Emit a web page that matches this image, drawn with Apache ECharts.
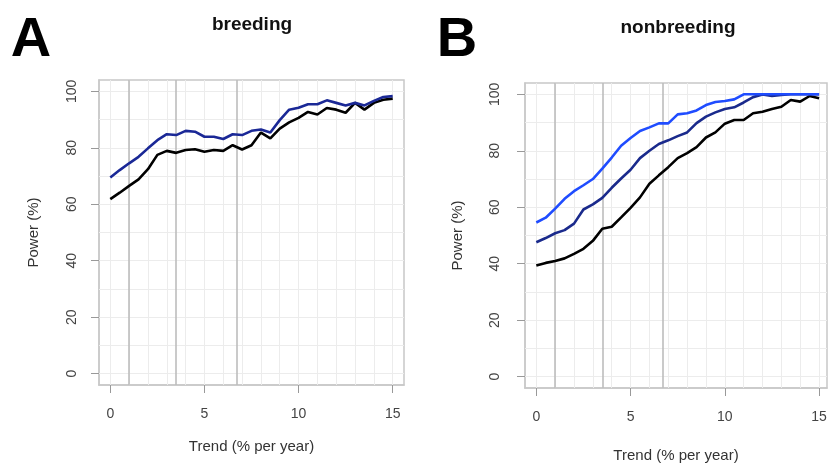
<!DOCTYPE html>
<html>
<head>
<meta charset="utf-8">
<script src="https://cdn.jsdelivr.net/npm/echarts@6/dist/echarts.min.js"></script>
<style>
  html, body { margin: 0; padding: 0; background: #fff; }
  #chart { width: 828px; height: 465px; }
</style>
</head>
<body>
<div id="chart"></div>
<script>
// trend values (% per year), one point every 0.5
const trend = [0, 0.5, 1, 1.5, 2, 2.5, 3, 3.5, 4, 4.5, 5, 5.5, 6, 6.5, 7, 7.5,
  8, 8.5, 9, 9.5, 10, 10.5, 11, 11.5, 12, 12.5, 13, 13.5, 14, 14.5, 15];

// panel A - breeding
const breedingBlue = [69.5, 72.1, 74.5, 76.8, 79.8, 82.7, 84.8, 84.5, 86.0, 85.7, 83.9, 83.9, 83.1, 84.8, 84.5, 86.0,
  86.5, 85.4, 89.8, 93.5, 94.2, 95.4, 95.4, 96.8, 95.9, 95.0, 95.9, 95.0, 96.6, 98.0, 98.3];
const breedingBlack = [61.8, 64.1, 66.5, 68.8, 72.4, 77.5, 78.9, 78.2, 79.2, 79.5, 78.6, 79.2, 78.9, 80.9, 79.4, 80.9,
  85.4, 83.3, 86.8, 89.0, 90.6, 92.7, 91.8, 94.1, 93.5, 92.4, 95.9, 93.5, 95.9, 97.0, 97.4];

// panel B - nonbreeding
const nonbreedingBright = [54.6, 56.3, 59.5, 63.0, 65.7, 67.8, 70.0, 73.7, 77.6, 81.8, 84.5, 87.0, 88.3, 89.7, 89.7, 92.9,
  93.3, 94.3, 96.2, 97.3, 97.6, 98.2, 100, 100, 100, 100, 100, 100, 100, 100, 100];
const nonbreedingNavy = [47.6, 49.1, 50.8, 51.9, 54.2, 59.2, 61.0, 63.3, 66.9, 70.2, 73.3, 77.4, 80.0, 82.4, 83.7, 85.2,
  86.5, 89.8, 92.1, 93.6, 94.8, 95.4, 97.1, 99.0, 99.9, 99.4, 99.8, 100, 100, 100, 100];
const nonbreedingBlack = [39.4, 40.3, 41.0, 41.9, 43.5, 45.3, 48.1, 52.4, 53.1, 56.4, 59.8, 63.5, 68.3, 71.3, 74.2, 77.4,
  79.2, 81.3, 84.7, 86.5, 89.6, 90.9, 90.9, 93.3, 93.8, 94.8, 95.6, 98.0, 97.4, 99.4, 98.6];

const xTicks = [0, 5, 10, 15];
const yTicks = [0, 20, 40, 60, 80, 100];
const minorX = [0, 1, 2, 3, 4, 5, 6, 7, 8, 9, 10, 11, 12, 13, 14, 15];
const minorY = [0, 10, 20, 30, 40, 50, 60, 70, 80, 90, 100];
const refLines = [1, 3.5, 6.7];

const FONT = "'Liberation Sans', Arial, sans-serif";
const pair = (ys) => trend.map((x, i) => [x, ys[i]]);

const xAxisFor = (gridIndex, max, nameGap) => ({
  type: 'value',
  gridIndex,
  min: -0.6,
  max,
  name: 'Trend (% per year)',
  nameLocation: 'middle',
  nameGap,
  nameTextStyle: { fontFamily: FONT, fontSize: 15, color: '#333' },
  axisLine: { show: true, onZero: false, lineStyle: { color: '#c8c8c8', width: 1.5 } },
  axisTick: { show: true, customValues: xTicks, length: 8, lineStyle: { color: '#999', width: 1 } },
  axisLabel: { customValues: xTicks, margin: 22, fontFamily: FONT, fontSize: 14, color: '#444' },
  splitLine: { show: false },
});

const yAxisFor = (gridIndex, nameGap, labelMargin) => ({
  type: 'value',
  gridIndex,
  min: -4,
  max: 104,
  name: 'Power (%)',
  nameLocation: 'middle',
  nameRotate: 90,
  nameGap,
  nameTextStyle: { fontFamily: FONT, fontSize: 15, color: '#333' },
  axisLine: { show: true, onZero: false, lineStyle: { color: '#c8c8c8', width: 1.5 } },
  axisTick: { show: true, customValues: yTicks, length: 8, lineStyle: { color: '#999', width: 1 } },
  axisLabel: { customValues: yTicks, rotate: 90, margin: labelMargin, fontFamily: FONT, fontSize: 14, color: '#444' },
  splitLine: { show: false },
});

const gridLines = (idx) => ({
  type: 'line',
  xAxisIndex: idx,
  yAxisIndex: idx,
  data: [],
  z: 1,
  silent: true,
  markLine: {
    silent: true,
    symbol: 'none',
    label: { show: false },
    animation: false,
    lineStyle: { color: '#ececec', width: 1, type: 'solid' },
    data: minorX.map((v) => ({ xAxis: v })).concat(minorY.map((v) => ({ yAxis: v }))),
  },
});

const refLineSeries = (idx) => ({
  type: 'line',
  xAxisIndex: idx,
  yAxisIndex: idx,
  data: [],
  z: 2,
  silent: true,
  markLine: {
    silent: true,
    symbol: 'none',
    label: { show: false },
    animation: false,
    lineStyle: { color: '#bdbdbd', width: 1.6, type: 'solid' },
    data: refLines.map((v) => ({ xAxis: v })),
  },
});

const powerLine = (idx, ys, color) => ({
  type: 'line',
  xAxisIndex: idx,
  yAxisIndex: idx,
  data: pair(ys),
  showSymbol: false,
  z: 5,
  lineStyle: { color, width: 2.6 },
  animation: false,
});

const chart = echarts.init(document.getElementById('chart'), null, { renderer: 'canvas' });

chart.setOption({
  animation: false,
  backgroundColor: '#fff',
  grid: [
    { left: 99, top: 80, width: 305, height: 305, outerBoundsMode: 'none', containLabel: false, show: true, borderColor: '#c8c8c8', borderWidth: 1.5, backgroundColor: 'transparent' },
    { left: 525, top: 83, width: 302, height: 305, outerBoundsMode: 'none', containLabel: false, show: true, borderColor: '#c8c8c8', borderWidth: 1.5, backgroundColor: 'transparent' },
  ],
  xAxis: [xAxisFor(0, 15.6, 54), xAxisFor(1, 15.42, 60)],
  yAxis: [yAxisFor(0, 58, 20), yAxisFor(1, 60, 23)],
  graphic: [
    { type: 'text', x: 31, y: 41, style: { text: 'A', font: `bold 56px ${FONT}`, fill: '#000', align: 'center', verticalAlign: 'middle' } },
    { type: 'text', x: 457, y: 41, style: { text: 'B', font: `bold 56px ${FONT}`, fill: '#000', align: 'center', verticalAlign: 'middle' } },
    { type: 'text', x: 252, y: 25, style: { text: 'breeding', font: `bold 19px ${FONT}`, fill: '#111', align: 'center', verticalAlign: 'middle' } },
    { type: 'text', x: 678, y: 28, style: { text: 'nonbreeding', font: `bold 19px ${FONT}`, fill: '#111', align: 'center', verticalAlign: 'middle' } },
  ],
  series: [
    gridLines(0),
    refLineSeries(0),
    powerLine(0, breedingBlack, '#000000'),
    powerLine(0, breedingBlue, '#1a2896'),
    gridLines(1),
    refLineSeries(1),
    powerLine(1, nonbreedingBlack, '#000000'),
    powerLine(1, nonbreedingNavy, '#1a2a8c'),
    powerLine(1, nonbreedingBright, '#1f4cff'),
  ],
});
</script>
</body>
</html>
